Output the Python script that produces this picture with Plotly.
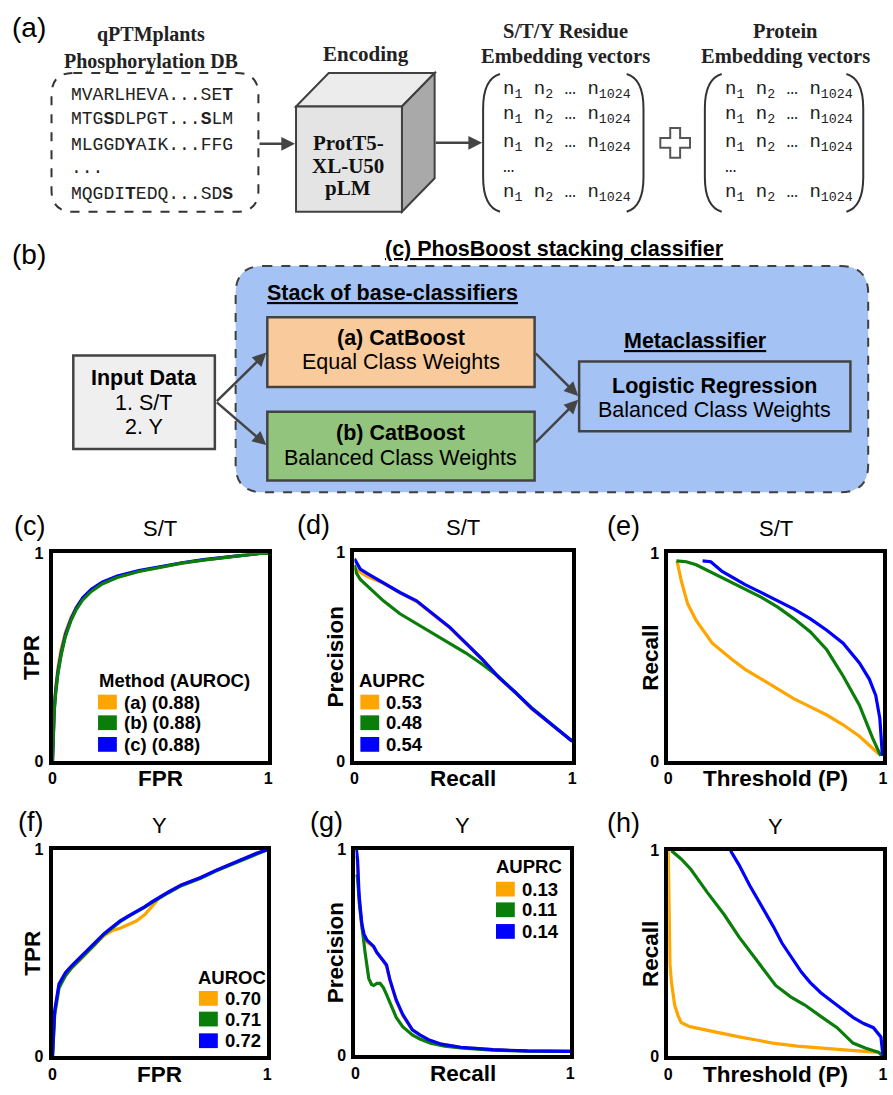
import plotly.graph_objects as go

W, H = 893, 1095
SANS = "Liberation Sans, Arial, sans-serif"
SERIF = "Liberation Serif, Times New Roman, serif"
MONO = "Liberation Mono, Courier New, monospace"
ORANGE, GREEN, BLUE = "#FFA500", "#0A7D0A", "#0000FF"

# ---------------- data ----------------
# (c) ROC S/T
st_roc_fpr = [0, 0.003, 0.008, 0.015, 0.025, 0.04, 0.06, 0.085, 0.11, 0.14, 0.18, 0.23, 0.3, 0.4, 0.5, 0.6, 0.7, 0.8, 0.9, 0.96, 1.0]
st_roc_tpr_a = [0, 0.17, 0.27, 0.36, 0.45, 0.54, 0.62, 0.69, 0.74, 0.782, 0.82, 0.855, 0.886, 0.914, 0.934, 0.954, 0.969, 0.982, 0.993, 1.0, 1.0]
st_roc_tpr_b = [0, 0.14, 0.24, 0.33, 0.42, 0.51, 0.6, 0.675, 0.73, 0.776, 0.817, 0.853, 0.884, 0.913, 0.933, 0.953, 0.968, 0.982, 0.993, 1.0, 1.0]
st_roc_tpr_c = [0, 0.15, 0.25, 0.34, 0.43, 0.52, 0.61, 0.682, 0.738, 0.786, 0.828, 0.862, 0.891, 0.917, 0.936, 0.955, 0.97, 0.983, 0.993, 1.0, 1.0]

# (d) PR S/T
st_pr_recall = [0, 0.01, 0.027, 0.058, 0.133, 0.209, 0.285, 0.36, 0.436, 0.512, 0.588, 0.664, 0.739, 0.815, 0.89, 0.95, 1.0]
st_pr_prec_a = [0.93, 0.92, 0.905, 0.885, 0.852, 0.806, 0.765, 0.703, 0.64, 0.563, 0.485, 0.398, 0.328, 0.25, 0.188, 0.138, 0.095]
st_pr_prec_b = [0.94, 0.90, 0.87, 0.84, 0.768, 0.706, 0.659, 0.612, 0.565, 0.518, 0.463, 0.403, 0.328, 0.255, 0.19, 0.14, 0.095]
st_pr_prec_c = [0.97, 0.95, 0.92, 0.90, 0.855, 0.808, 0.768, 0.706, 0.643, 0.565, 0.487, 0.40, 0.33, 0.252, 0.19, 0.14, 0.095]

# (e) Recall vs threshold S/T
st_thr_a = [0.041, 0.061, 0.091, 0.13, 0.205, 0.297, 0.358, 0.434, 0.51, 0.586, 0.662, 0.738, 0.814, 0.89, 0.982]
st_rec_a = [0.964, 0.866, 0.756, 0.677, 0.568, 0.489, 0.442, 0.395, 0.348, 0.3, 0.261, 0.222, 0.175, 0.12, 0.033]
st_thr_b = [0.038, 0.084, 0.13, 0.205, 0.282, 0.358, 0.434, 0.51, 0.586, 0.662, 0.738, 0.814, 0.89, 0.951, 0.989]
st_rec_b = [0.964, 0.96, 0.945, 0.906, 0.866, 0.827, 0.788, 0.741, 0.685, 0.622, 0.536, 0.41, 0.269, 0.112, 0.025]
st_thr_c = [0.16, 0.198, 0.251, 0.358, 0.434, 0.51, 0.586, 0.662, 0.738, 0.814, 0.89, 0.936, 0.966, 0.985, 0.994, 0.997]
st_rec_c = [0.964, 0.96, 0.913, 0.85, 0.811, 0.772, 0.732, 0.685, 0.63, 0.568, 0.473, 0.395, 0.316, 0.206, 0.08, 0.025]

# (f) ROC Y
y_roc_fpr = [0, 0.003, 0.01, 0.03, 0.06, 0.09, 0.13, 0.165, 0.2, 0.24, 0.28, 0.315, 0.35, 0.39, 0.43, 0.466, 0.5, 0.54, 0.6, 0.69, 0.76, 0.84, 0.9, 0.95, 1.0]
y_roc_tpr_a = [0, 0.1, 0.21, 0.34, 0.39, 0.43, 0.47, 0.51, 0.545, 0.585, 0.61, 0.62, 0.635, 0.655, 0.686, 0.73, 0.77, 0.795, 0.83, 0.866, 0.9, 0.935, 0.96, 0.983, 1.0]
y_roc_tpr_b = [0, 0.09, 0.2, 0.33, 0.39, 0.43, 0.47, 0.508, 0.545, 0.59, 0.624, 0.652, 0.675, 0.697, 0.722, 0.746, 0.768, 0.792, 0.826, 0.862, 0.897, 0.932, 0.957, 0.98, 1.0]
y_roc_tpr_c = [0, 0.1, 0.22, 0.35, 0.405, 0.44, 0.48, 0.515, 0.55, 0.594, 0.628, 0.656, 0.678, 0.70, 0.725, 0.75, 0.772, 0.796, 0.83, 0.866, 0.9, 0.936, 0.96, 0.983, 1.0]

# (g) PR Y
y_pr_recall_ac = [0.005, 0.01, 0.017, 0.03, 0.04, 0.054, 0.07, 0.085, 0.1, 0.115, 0.13, 0.145, 0.16, 0.175, 0.19, 0.22, 0.265, 0.3, 0.34, 0.4, 0.49, 0.64, 0.8, 1.0]
y_pr_prec_a = [0.97, 0.92, 0.75, 0.62, 0.58, 0.55, 0.54, 0.525, 0.5, 0.48, 0.46, 0.43, 0.365, 0.315, 0.265, 0.195, 0.125, 0.1, 0.077, 0.055, 0.04, 0.028, 0.022, 0.02]
y_pr_prec_c = [1.0, 0.95, 0.78, 0.64, 0.59, 0.56, 0.545, 0.53, 0.5, 0.48, 0.466, 0.44, 0.37, 0.32, 0.27, 0.2, 0.125, 0.1, 0.077, 0.055, 0.04, 0.028, 0.022, 0.02]
y_pr_recall_b = [0.005, 0.01, 0.02, 0.03, 0.045, 0.062, 0.075, 0.085, 0.1, 0.115, 0.13, 0.145, 0.17, 0.19, 0.22, 0.265, 0.3, 0.35, 0.415, 0.5, 0.64, 0.8, 1.0]
y_pr_prec_b = [0.88, 0.86, 0.72, 0.62, 0.5, 0.375, 0.345, 0.34, 0.35, 0.35, 0.33, 0.296, 0.23, 0.185, 0.14, 0.1, 0.08, 0.06, 0.045, 0.035, 0.026, 0.021, 0.02]

# (h) Recall vs threshold Y
y_thr_a = [0.0, 0.002, 0.005, 0.008, 0.015, 0.03, 0.045, 0.06, 0.1, 0.18, 0.26, 0.33, 0.41, 0.485, 0.6, 0.71, 0.85, 0.98, 1.0]
y_rec_a = [1.0, 0.8, 0.6, 0.45, 0.36, 0.25, 0.2, 0.165, 0.145, 0.127, 0.11, 0.095, 0.08, 0.065, 0.05, 0.04, 0.03, 0.02, 0.0]
y_thr_b = [0.015, 0.06, 0.105, 0.18, 0.26, 0.33, 0.41, 0.5, 0.57, 0.636, 0.71, 0.786, 0.86, 0.92, 0.98, 1.0]
y_rec_b = [1.0, 0.96, 0.91, 0.80, 0.69, 0.58, 0.47, 0.345, 0.29, 0.25, 0.195, 0.14, 0.065, 0.04, 0.02, 0.0]
y_thr_c = [0.29, 0.33, 0.38, 0.42, 0.45, 0.49, 0.53, 0.58, 0.62, 0.66, 0.71, 0.76, 0.81, 0.86, 0.91, 0.955, 0.99, 1.0]
y_rec_c = [1.0, 0.93, 0.83, 0.76, 0.705, 0.63, 0.55, 0.47, 0.41, 0.36, 0.31, 0.27, 0.23, 0.19, 0.16, 0.14, 0.095, 0.0]

st_auroc_labels = ["(a) (0.88)", "(b) (0.88)", "(c) (0.88)"]
st_auprc_labels = ["0.53", "0.48", "0.54"]
y_auroc_labels = ["0.70", "0.71", "0.72"]
y_auprc_labels = ["0.13", "0.11", "0.14"]
tick_vals = [0, 1]
tick_text = ["<b>0</b>", "<b>1</b>"]

# ---------------- helpers ----------------
def px(x):
    return x / W

def py(y):
    return 1 - y / H

annotations = []
shapes = []

def ann(text, x, y, size=16, family=SANS, color="black", xanchor="center", yanchor="middle", angle=0):
    annotations.append(dict(text=text, x=px(x), y=py(y), xref="paper", yref="paper", showarrow=False,
                            xanchor=xanchor, yanchor=yanchor, textangle=angle,
                            font=dict(size=size, family=family, color=color)))

def arrow(x0, y0, x1, y1, color="#444444", width=2.5, size=1.1):
    annotations.append(dict(text="", x=px(x1), y=py(y1), xref="paper", yref="paper", showarrow=True,
                            ax=x0 - x1, ay=y0 - y1, axref="pixel", ayref="pixel",
                            arrowhead=2, arrowsize=size, arrowwidth=width, arrowcolor=color, standoff=0))

def rect(x0, y0, x1, y1, fill="rgba(0,0,0,0)", color="#434343", width=2.5, dash="solid"):
    shapes.append(dict(type="rect", xref="paper", yref="paper", x0=px(x0), x1=px(x1), y0=py(y1), y1=py(y0),
                       fillcolor=fill, line=dict(color=color, width=width, dash=dash)))

def P(a, b):
    return f"{px(a):.5f},{py(b):.5f}"

def path(d, fill="rgba(0,0,0,0)", color="#404040", width=2, dash="solid"):
    shapes.append(dict(type="path", xref="paper", yref="paper", path=d, fillcolor=fill,
                       line=dict(color=color, width=width, dash=dash)))

def rrect(x0, y0, x1, y1, r, **kw):
    d = (f"M{P(x0 + r, y0)} L{P(x1 - r, y0)} Q{P(x1, y0)} {P(x1, y0 + r)} L{P(x1, y1 - r)} "
         f"Q{P(x1, y1)} {P(x1 - r, y1)} L{P(x0 + r, y1)} Q{P(x0, y1)} {P(x0, y1 - r)} "
         f"L{P(x0, y0 + r)} Q{P(x0, y0)} {P(x0 + r, y0)} Z")
    path(d, **kw)

def poly(pts, **kw):
    d = "M" + " L".join(P(a, b) for a, b in pts) + " Z"
    path(d, **kw)

# ---------------- (a) pipeline ----------------
ann("(a)", 25, 20, size=28)
ann("<b>qPTMplants</b>", 149, 27, size=20, family=SERIF, color="#222222")
ann("<b>Phosphorylation DB</b>", 149, 54, size=20, family=SERIF, color="#222222")
rrect(48, 66, 257, 207, 22, color="#333333", width=2, dash="dash")
seqs = ["MVARLHEVA...SE<b>T</b>", "MTG<b>S</b>DLPGT...<b>S</b>LM", "MLGGD<b>Y</b>AIK...FFG", "...",
        "MQGDI<b>T</b>EDQ...SD<b>S</b>"]
for s, yy in zip(seqs, [88, 113, 139, 163, 189]):
    ann(s, 66, yy, size=18, family=MONO, color="#222222", xanchor="left")
arrow(257, 138, 294, 138)

ann("<b>Encoding</b>", 366, 47, size=21, family=SERIF, color="#222222")
# cube
poly([(295, 100), (328, 66), (435, 66), (402, 100)], fill="#ececec", color="#404040", width=2)
poly([(402, 100), (435, 66), (435, 173), (402, 207)], fill="#a9a9a9", color="#404040", width=2)
poly([(295, 100), (402, 100), (402, 207), (295, 207)], fill="#e4e4e4", color="#404040", width=2)
for t, yy in zip(["ProtT5-", "XL-U50", "pLM"], [137, 160, 183]):
    ann(f"<b>{t}</b>", 348, yy, size=21, family=SERIF, color="#111111")
arrow(435, 137, 483, 137)

row_txt = "n<sub>1</sub> n<sub>2</sub> … n<sub>1024</sub>"
for cx, title, left, right in [(567, "S/T/Y Residue", 484, 646), (789, "Protein", 708, 868)]:
    ann(f"<b>{title}</b>", cx, 23, size=20.5, family=SERIF, color="#222222")
    ann("<b>Embedding vectors</b>", cx, 49, size=20.5, family=SERIF, color="#222222")
    path(f"M{P(left + 17, 67)} Q{P(left, 72)} {P(left, 102)} L{P(left, 172)} Q{P(left, 202)} {P(left + 17, 207)}",
         color="#333333", width=2)
    path(f"M{P(right - 17, 67)} Q{P(right, 72)} {P(right, 102)} L{P(right, 172)} Q{P(right, 202)} {P(right - 17, 207)}",
         color="#333333", width=2)
    for yy, txt in zip([83, 109, 137, 161, 188], [row_txt, row_txt, row_txt, "…", row_txt]):
        ann(txt, left + 18, yy, size=19, family=MONO, color="#222222", xanchor="left")
# plus sign
cx, cy, s, a = 678, 137, 15, 5
poly([(cx - a, cy - s), (cx + a, cy - s), (cx + a, cy - a), (cx + s, cy - a), (cx + s, cy + a), (cx + a, cy + a),
      (cx + a, cy + s), (cx - a, cy + s), (cx - a, cy + a), (cx - s, cy + a), (cx - s, cy - a), (cx - a, cy - a)],
     fill="white", color="#555555", width=2)

# ---------------- (b) stacking diagram ----------------
BS = 21.5
ann("(b)", 25, 250, size=28)
ann("<b><u>(c) PhosBoost stacking classifier</u></b>", 556, 245, size=BS)
rrect(234, 262, 873, 492, 28, fill="#a4c2f4", color="#3f3f3f", width=2, dash="dash")
ann("<b><u>Stack of base-classifiers</u></b>", 392, 290, size=BS)
rect(266, 314, 536, 385, fill="#f9cb9c")
ann("<b>(a) CatBoost</b>", 401, 335, size=BS)
ann("Equal Class Weights", 401, 360, size=BS)
rect(266, 410, 536, 480, fill="#93c47d")
ann("<b>(b) CatBoost</b>", 401, 432, size=BS)
ann("Balanced Class Weights", 401, 457, size=BS)
rect(70, 353, 213, 448, fill="#efefef")
ann("<b>Input Data</b>", 141, 376, size=BS)
ann("1. S/T", 141, 401, size=BS)
ann("2. Y", 141, 426, size=BS)
ann("<b><u>Metaclassifier</u></b>", 699, 338, size=BS)
rect(581, 359, 855, 430)
ann("<b>Logistic Regression</b>", 718, 384, size=BS)
ann("Balanced Class Weights", 718, 408, size=BS)
arrow(214, 400, 265, 350)
arrow(214, 400, 265, 444)
arrow(536, 350, 580, 394)
arrow(536, 442, 580, 398)

# ---------------- plots ----------------
fig = go.Figure()

frames = {
    "c": (49, 267, 554, 765), "d": (354, 574, 553, 765), "e": (671, 888, 554, 765),
    "f": (49, 266, 855, 1065), "g": (355, 572, 855, 1064), "h": (671, 888, 856, 1065),
}
order = ["c", "d", "e", "f", "g", "h"]
layout_axes = {}
for i, k in enumerate(order, start=1):
    x0, x1, y0, y1 = frames[k]
    common = dict(range=[0, 1], showline=True, mirror=True, linewidth=4, linecolor="black", showgrid=False,
                  zeroline=False, tickvals=tick_vals, ticktext=tick_text, ticks="", fixedrange=True,
                  tickfont=dict(size=16, family=SANS, color="black"))
    sfx = "" if i == 1 else str(i)
    layout_axes["xaxis" + sfx] = dict(domain=[px(x0), px(x1)], anchor="y" + sfx, **common)
    layout_axes["yaxis" + sfx] = dict(domain=[py(y1), py(y0)], anchor="x" + sfx, ticklabelstandoff=2, **common)

def line(k, x, y, color):
    i = order.index(k) + 1
    sfx = "" if i == 1 else str(i)
    fig.add_trace(go.Scatter(x=x, y=y, mode="lines", line=dict(color=color, width=3.2),
                             xaxis="x" + sfx, yaxis="y" + sfx, showlegend=False, hoverinfo="skip"))

line("c", st_roc_fpr, st_roc_tpr_a, ORANGE)
line("c", st_roc_fpr, st_roc_tpr_c, BLUE)
line("c", st_roc_fpr, st_roc_tpr_b, GREEN)

line("d", st_pr_recall, st_pr_prec_a, ORANGE)
line("d", st_pr_recall, st_pr_prec_b, GREEN)
line("d", st_pr_recall, st_pr_prec_c, BLUE)

line("e", st_thr_a, st_rec_a, ORANGE)
line("e", st_thr_b, st_rec_b, GREEN)
line("e", st_thr_c, st_rec_c, BLUE)

line("f", y_roc_fpr, y_roc_tpr_a, ORANGE)
line("f", y_roc_fpr, y_roc_tpr_b, GREEN)
line("f", y_roc_fpr, y_roc_tpr_c, BLUE)

line("g", y_pr_recall_ac, y_pr_prec_a, ORANGE)
line("g", y_pr_recall_b, y_pr_prec_b, GREEN)
line("g", y_pr_recall_ac, y_pr_prec_c, BLUE)

line("h", y_thr_a, y_rec_a, ORANGE)
line("h", y_thr_b, y_rec_b, GREEN)
line("h", y_thr_c, y_rec_c, BLUE)

# panel labels, titles, axis titles
panel_info = {
    "c": ("(c)", 26, "S/T", "FPR", "TPR", 28),
    "d": ("(d)", 313, "S/T", "Recall", "Precision", 335),
    "e": ("(e)", 626, "S/T", "Threshold (P)", "Recall", 653),
    "f": ("(f)", 27, "Y", "FPR", "TPR", 28),
    "g": ("(g)", 326, "Y", "Recall", "Precision", 335),
    "h": ("(h)", 626, "Y", "Threshold (P)", "Recall", 653),
}
for k in order:
    lab, lx, title, xt, yt, ytx = panel_info[k]
    x0, x1, y0, y1 = frames[k]
    ann(lab, lx, y0 - 28, size=27)
    ann(title, (x0 + x1) / 2, y0 - 25, size=22)
    ann(f"<b>{xt}</b>", (x0 + x1) / 2, y1 + 18, size=22.5)
    ann(f"<b>{yt}</b>", ytx, (y0 + y1) / 2, size=22.5, angle=-90)

# legends
def legend(title, labels, tx, ty, sqx, rows):
    ann(f"<b>{title}</b>", tx, ty, size=18.5, xanchor="left")
    for lbl, color, yy in zip(labels, [ORANGE, GREEN, BLUE], rows):
        rect(sqx, yy - 7.5, sqx + 19, yy + 7.5, fill=color, color=color, width=0)
        ann(f"<b>{lbl}</b>", sqx + 24, yy, size=18.5, xanchor="left")

legend("Method (AUROC)", st_auroc_labels, 94, 683, 95, [705, 726, 748])
legend("AUPRC", st_auprc_labels, 357, 683, 360, [705, 726, 748])
legend("AUROC", y_auroc_labels, 194, 985, 197, [1006, 1027, 1049])
legend("AUPRC", y_auprc_labels, 495, 872, 497, [895, 916, 938])

fig.update_layout(width=W, height=H, margin=dict(l=0, r=0, t=0, b=0), paper_bgcolor="white",
                  plot_bgcolor="white", showlegend=False, annotations=annotations, shapes=shapes,
                  **layout_axes)
fig.write_html("out.html", config={"displayModeBar": False},
               post_script="document.body.style.margin='0px';")
